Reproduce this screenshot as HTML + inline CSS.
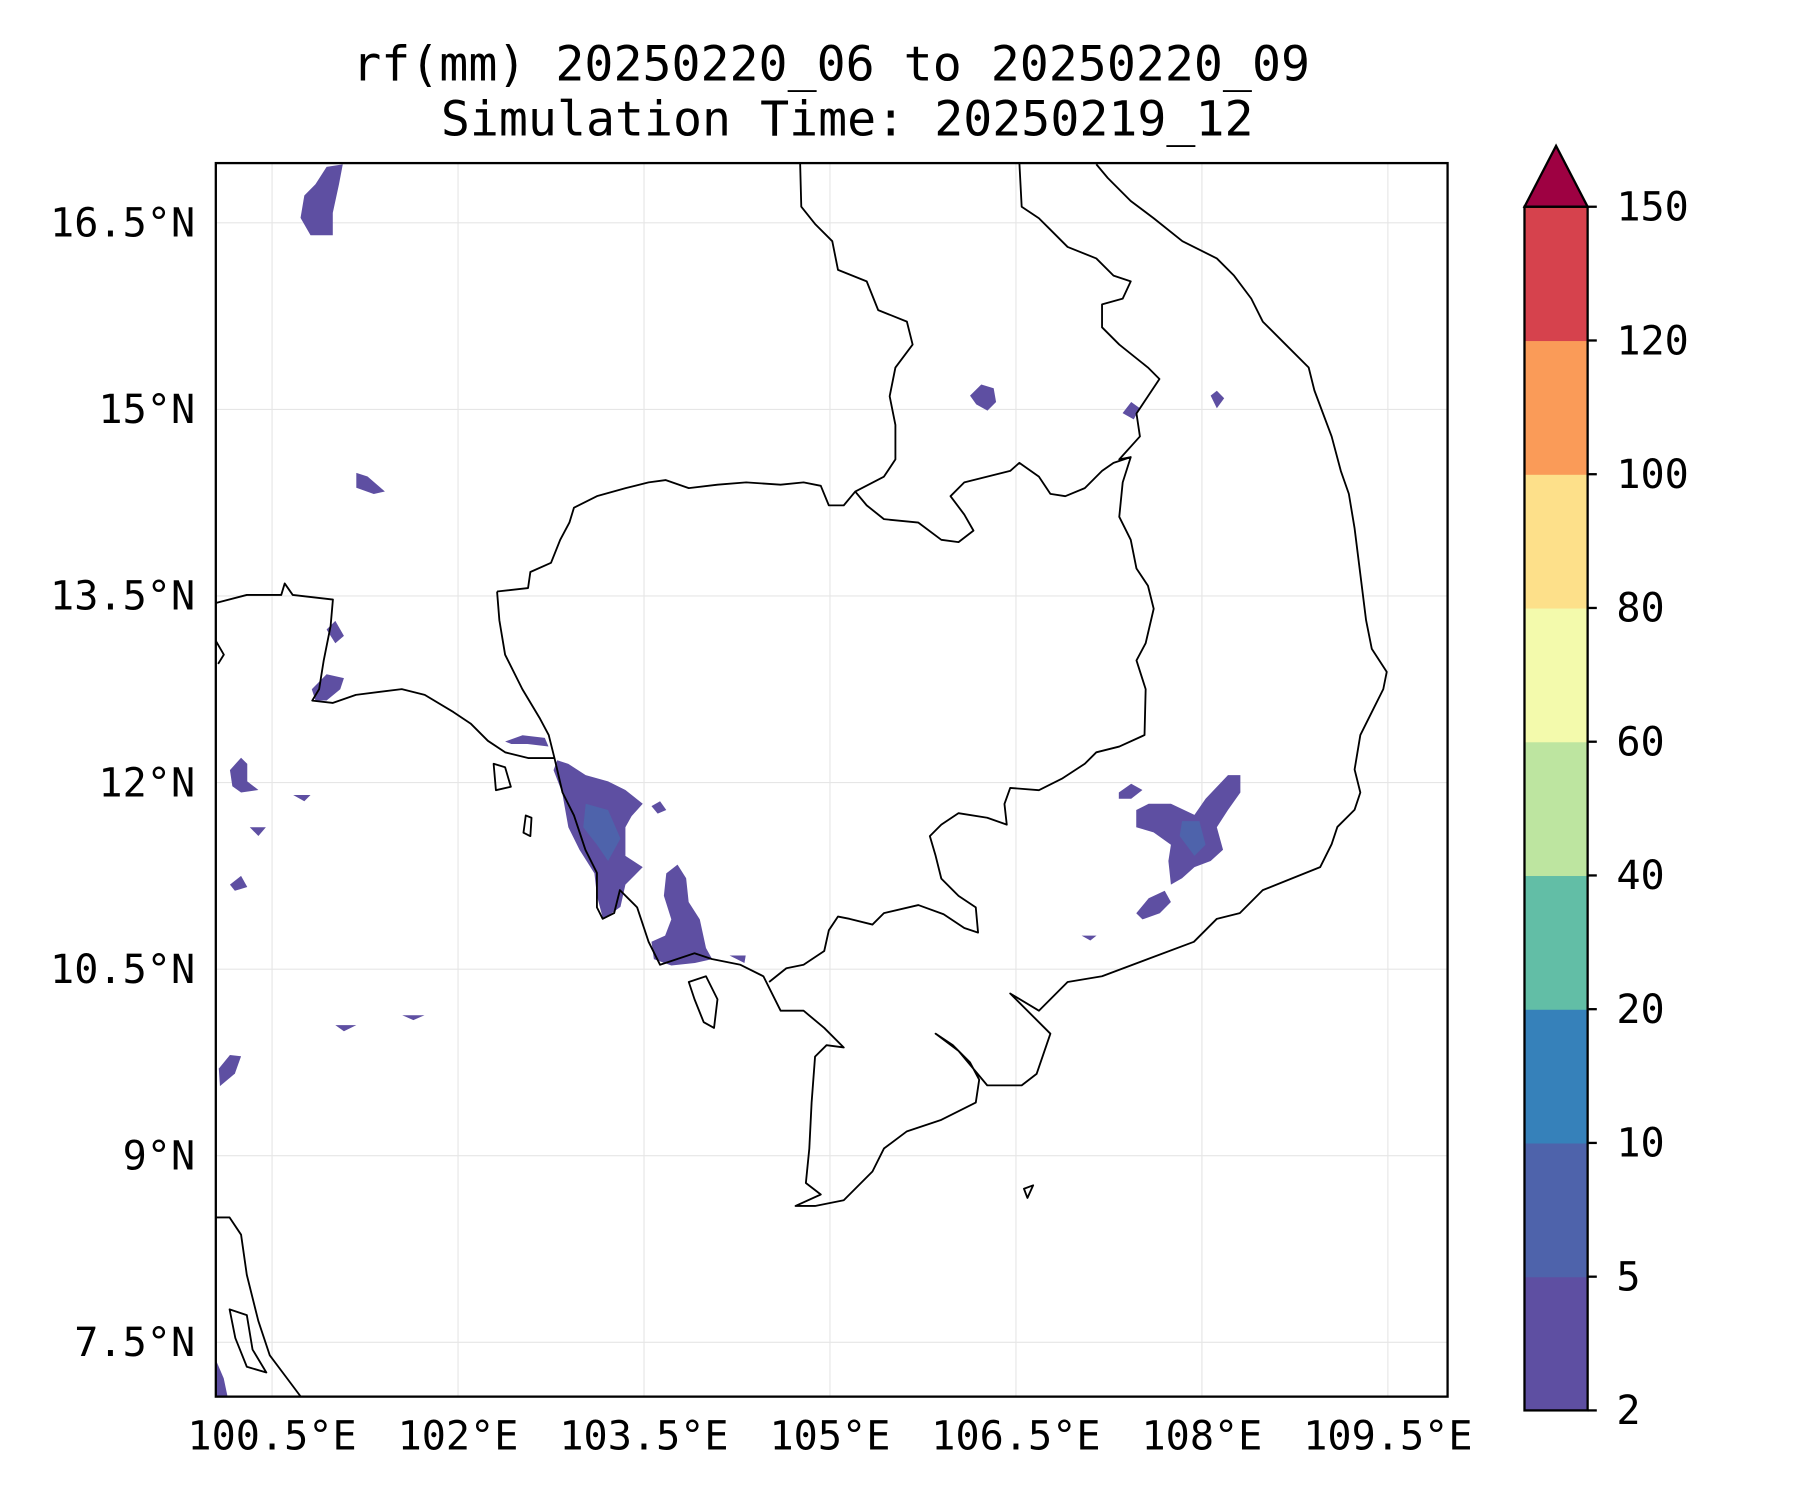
<!DOCTYPE html>
<html><head><meta charset="utf-8"><style>html,body{margin:0;padding:0;background:#fff}svg{display:block}</style></head>
<body>
<svg id="chart" xmlns="http://www.w3.org/2000/svg" width="1800" height="1500" viewBox="0 0 1568 1306" preserveAspectRatio="none" font-family="'DejaVu Sans Mono','Liberation Mono',monospace">
<rect width="1568" height="1306" fill="#fff"/>
<g font-size="42" text-anchor="middle" fill="#000">
<text x="724" y="70">rf(mm) 20250220_06 to 20250220_09</text>
<text x="738" y="118">Simulation Time: 20250219_12</text>
</g>
<defs><clipPath id="mapclip"><rect x="188" y="142" width="1073" height="1074"/></clipPath></defs>
<g id="grid"></g>
<g id="blobs" clip-path="url(#mapclip)"></g>
<g clip-path="url(#mapclip)" fill="none" stroke="#000" stroke-width="1.6" stroke-linejoin="round">
<path d="M433,515 L460,512 462,498 480,490 488,470 496,455 500,442 520,432 545,425 565,420 580,418 600,425 625,422 650,420 680,422 700,420 715,423 722,440 735,440 745,428 755,440 770,452 800,455 820,470 835,472 848,462 840,448 828,432 840,420 860,415 880,410 888,403 905,415 915,430 928,432 945,425 960,410 970,403 985,398 978,420 975,450 985,470 990,495 1000,510 1005,530 998,560 990,575 998,600 997,640 975,650 955,655 945,665 925,678 905,688 880,686 875,700 877,718 860,712 835,708 820,718 810,728 815,745 820,765 835,780 850,790 852,812 840,808 822,796 800,788 770,795 760,805 740,800 730,798 722,810 718,828 700,840 685,843 670,855"/>
<path d="M433,515 L435,540 440,570 455,600 470,625 478,640 483,660"/>
<path d="M483,660 L490,690 500,710 510,740 520,760 520,790 525,800 535,795 540,775 555,790 565,820 575,840 590,835 605,830 620,835 645,840 665,850 680,880 700,880 718,895 735,912 720,910 710,920 707,960 705,1000 702,1030 715,1040 693,1050 710,1050 735,1045 760,1020 770,1000 790,985 820,975 850,960 853,940 845,925 830,910 815,900 835,915 860,945 890,945 903,935 915,900 880,865 905,880 915,870 930,855 960,850 1000,835 1040,820 1060,800 1080,795 1100,775 1125,765 1150,755 1160,735 1165,720 1180,705 1185,690 1180,670 1185,640 1195,620 1205,600 1208,585 1195,565 1190,540 1185,500 1180,460 1175,430 1168,410 1160,380 1145,340 1140,320 1120,300 1100,280 1090,260 1075,240 1060,225 1030,210 1005,190 985,175 965,155 955,143"/>
<path d="M188,525 L215,518 245,518 248,508 255,518 290,522 288,545 282,575 278,600 272,610 290,612 310,605 350,600 370,605 395,620 410,630 425,645 440,655 460,660 483,660"/>
<path d="M697,142 L698,180 710,195 725,210 730,235 755,245 765,270 790,280 795,300 780,320 775,345 780,370 780,400 770,415 745,428"/>
<path d="M888,142 L890,180 905,190 915,200 930,215 955,225 970,240 985,245 978,260 960,265 960,285 975,300 1000,320 1010,330 1000,345 990,360 993,380 975,400 985,398"/>
<path d="M188,1060 L200,1060 210,1075 215,1110 225,1150 235,1180 250,1200 262,1216"/>
<path d="M600,855 L615,850 625,870 622,895 613,890 605,870Z M430,665 L440,668 445,685 432,688Z M458,710 L463,712 462,728 456,725Z M200,1140 L215,1145 220,1175 232,1195 215,1190 205,1165Z M188,558 L195,570 190,578 M892,1035 L900,1032 895,1043Z"/>
</g>
<rect x="188" y="142" width="1073" height="1074" fill="none" stroke="#000" stroke-width="2"/>
<g id="axes" font-size="35" fill="#000"></g>
<g id="cbar"></g>
</svg>
<script>
var lonTicks=[100.5,102,103.5,105,106.5,108,109.5];
var latTicks=[16.5,15,13.5,12,10.5,9,7.5];
var lonLabels=["100.5°E","102°E","103.5°E","105°E","106.5°E","108°E","109.5°E"];
var latLabels=["16.5°N","15°N","13.5°N","12°N","10.5°N","9°N","7.5°N"];
var levels=[2,5,10,20,40,60,80,100,120,150];
var levelColors=["#5e4fa2","#4e63ab","#3681ba","#62bea6","#bde5a0","#f3faac","#fde08a","#fa9b58","#d6424d"];
var extendColor="#9e0142";
var blob1=[[100.85,16.81],[100.94,16.95],[101.07,16.97],[101.04,16.81],[100.99,16.58],[100.99,16.40],[100.81,16.40],[100.73,16.54],[100.76,16.72]];
var blob2=[[101.18,14.49],[101.27,14.46],[101.41,14.34],[101.32,14.32],[101.18,14.37]];
var blob3=[[106.13,15.11],[106.22,15.20],[106.32,15.17],[106.34,15.06],[106.27,14.99],[106.18,15.04]];
var blob4=[[107.36,14.97],[107.43,15.06],[107.50,15.01],[107.45,14.92]];
var blob5=[[108.07,15.11],[108.12,15.15],[108.18,15.09],[108.12,15.01]];
var blob6=[[100.82,12.75],[100.94,12.87],[101.08,12.84],[101.05,12.75],[100.94,12.66],[100.85,12.66]];
var blob7=[[100.94,13.23],[101.01,13.30],[101.08,13.18],[101.01,13.12]];
var blob8=[[102.80,12.18],[102.89,12.15],[103.03,12.06],[103.21,12.01],[103.35,11.94],[103.49,11.83],[103.40,11.73],[103.35,11.64],[103.35,11.41],[103.49,11.32],[103.35,11.18],[103.31,11.00],[103.17,10.90],[103.12,11.09],[103.10,11.27],[102.98,11.46],[102.89,11.64],[102.84,11.92],[102.77,12.10]];
var blob8inner=[[103.03,11.83],[103.21,11.78],[103.31,11.55],[103.21,11.37],[103.12,11.50],[103.01,11.64]];
var blob9=[[103.68,11.27],[103.77,11.34],[103.84,11.23],[103.86,11.04],[103.95,10.90],[104.00,10.67],[104.05,10.58],[103.91,10.55],[103.72,10.53],[103.58,10.58],[103.56,10.72],[103.67,10.77],[103.72,10.90],[103.66,11.09]];
var blob10=[[107.47,11.78],[107.57,11.83],[107.75,11.83],[107.94,11.74],[108.03,11.87],[108.21,12.06],[108.31,12.06],[108.31,11.92],[108.21,11.78],[108.12,11.64],[108.17,11.46],[108.07,11.37],[107.94,11.32],[107.84,11.23],[107.75,11.18],[107.73,11.37],[107.75,11.50],[107.61,11.60],[107.47,11.64]];
var blob10inner=[[107.84,11.69],[107.98,11.69],[108.03,11.50],[107.94,11.41],[107.82,11.57]];
var blob11=[[107.47,10.95],[107.57,11.07],[107.70,11.13],[107.75,11.04],[107.66,10.95],[107.52,10.90]];
var blob12=[[107.33,11.92],[107.43,11.99],[107.52,11.94],[107.43,11.87],[107.33,11.87]];
var blob13=[[102.38,12.33],[102.52,12.38],[102.70,12.36],[102.73,12.29],[102.56,12.31],[102.43,12.31]];
var blob14=[[100.16,12.10],[100.25,12.20],[100.30,12.15],[100.30,12.01],[100.39,11.94],[100.25,11.92],[100.18,11.97]];
var blob15=[[100.16,11.18],[100.25,11.25],[100.30,11.16],[100.20,11.13]];
var blob16=[[100.07,9.70],[100.16,9.81],[100.25,9.80],[100.20,9.66],[100.08,9.56]];
var blob17=[[100.05,7.35],[100.11,7.21],[100.14,7.07],[100.05,7.07]];
var blob18=[[100.67,11.90],[100.81,11.90],[100.76,11.85]];
var blob19=[[101.01,10.05],[101.18,10.05],[101.08,10.00]];
var blob20=[[101.55,10.13],[101.73,10.13],[101.64,10.09]];
var blob21=[[103.56,11.81],[103.63,11.85],[103.68,11.78],[103.61,11.75]];
var blob22=[[104.19,10.61],[104.32,10.61],[104.31,10.55]];
var blob23=[[107.03,10.77],[107.15,10.77],[107.10,10.73]];
var blob24=[[100.32,11.64],[100.45,11.64],[100.39,11.57]];
var blobs=[blob1,blob2,blob3,blob4,blob5,blob6,blob7,blob8,blob9,blob10,blob11,blob12,blob13,blob14,blob15,blob16,blob17,blob18,blob19,blob20,blob21,blob22,blob23,blob24];
var innerBlobs=[blob8inner,blob10inner];

var NS="http://www.w3.org/2000/svg";
function xLon(lon){return 237+(lon-100.5)*108;}
function yLat(lat){return 194+(16.5-lat)*108.3;}
var cbTop=180,cbBot=1228,cbL=1328,cbR=1383;
function yLev(i){return cbBot-(cbBot-cbTop)*i/(levels.length-1);}
function mk(tag,attrs,parent){var e=document.createElementNS(NS,tag);for(var k in attrs)e.setAttribute(k,attrs[k]);parent.appendChild(e);return e;}

var grid=document.getElementById('grid');
lonTicks.forEach(function(v){
  var l=mk('line',{x1:xLon(v),x2:xLon(v),y1:142,y2:1216,stroke:'#e6e6e6','stroke-width':1},grid);
  
  
});
latTicks.forEach(function(v){
  var l=mk('line',{x1:188,x2:1261,y1:yLat(v),y2:yLat(v),stroke:'#e6e6e6','stroke-width':1},grid);
  
  
});
var axes=document.getElementById('axes');
lonTicks.forEach(function(v,i){
  var t=mk('text',{x:xLon(v),y:1262,'text-anchor':'middle'},axes);
  t.textContent=lonLabels[i];
  
  
});
latTicks.forEach(function(v,i){
  var t=mk('text',{x:170,y:yLat(v)+12,'text-anchor':'end'},axes);
  t.textContent=latLabels[i];
  
  
});
function pts(arr){return arr.map(function(p){return xLon(p[0]).toFixed(1)+','+yLat(p[1]).toFixed(1);}).join(' ');}
var bg=document.getElementById('blobs');
blobs.forEach(function(b){
  var p=mk('polygon',{points:pts(b),fill:levelColors[0]},bg);
  
  
});
innerBlobs.forEach(function(b){
  var p=mk('polygon',{points:pts(b),fill:levelColors[1]},bg);
  
  
});
var cb=document.getElementById('cbar');
for(var i=0;i<levels.length-1;i++){
  var r=mk('rect',{x:cbL,y:yLev(i+1),width:cbR-cbL,height:yLev(i)-yLev(i+1)+0.5,fill:levelColors[i]},cb);
  
  
}
var tri=mk('polygon',{points:cbL+','+cbTop+' '+((cbL+cbR)/2)+',127 '+cbR+','+cbTop,fill:extendColor,stroke:'#000','stroke-width':2},cb);


var fr=mk('rect',{x:cbL,y:cbTop,width:cbR-cbL,height:cbBot-cbTop,fill:'none',stroke:'#000','stroke-width':2},cb);


levels.forEach(function(v,i){
  var tk=mk('line',{x1:cbR,x2:cbR+8,y1:yLev(i),y2:yLev(i),stroke:'#000','stroke-width':2},cb);
  
  
  var t=mk('text',{x:1408,y:yLev(i)+12,'font-size':35},cb);
  t.textContent=String(v);
  
  
});
</script>
</body></html>
